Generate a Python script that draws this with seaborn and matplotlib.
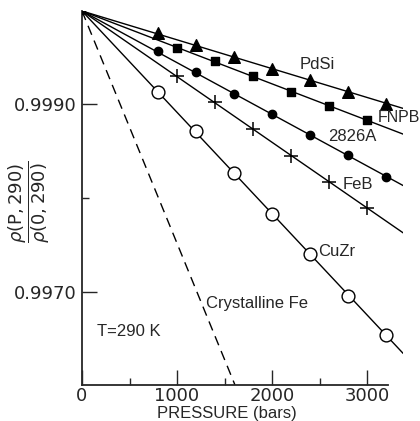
import numpy as np
import pandas as pd
import matplotlib
matplotlib.use("Agg")
import matplotlib.pyplot as plt
import seaborn as sns

# ---- data ----
pdsi_p = [800, 1200, 1600, 2000, 2400, 2800, 3200]
pdsi_v = [0.999766, 0.999638, 0.999511, 0.999383, 0.999266, 0.999138, 0.999000]

fnpb_p = [1000, 1400, 1800, 2200, 2600, 3000]
fnpb_v = [0.999606, 0.999468, 0.999309, 0.999138, 0.998979, 0.998830]

a2826_p = [800, 1200, 1600, 2000, 2400, 2800, 3200]
a2826_v = [0.999574, 0.999351, 0.999117, 0.998894, 0.998670, 0.998457, 0.998223]

feb_p = [1000, 1400, 1800, 2200, 2600, 3000]
feb_v = [0.999309, 0.999032, 0.998734, 0.998447, 0.998170, 0.997894]

cuzr_p = [800, 1200, 1600, 2000, 2400, 2800, 3200]
cuzr_v = [0.999138, 0.998713, 0.998266, 0.997830, 0.997404, 0.996957, 0.996532]

cryst_fe_p = [0, 1610]
cryst_fe_v = [1.0000, 0.9960]

x_ticks_major = [0, 1000, 2000, 3000]
x_tick_labels = ["0", "1000", "2000", "3000"]
x_ticks_minor = [500, 1500, 2500]
y_ticks_major = [0.9970, 0.9990]
y_tick_labels = ["0.9970", "0.9990"]
y_ticks_minor = [0.9980]

P_END = 3380

sns.set_style("ticks")
plt.rcParams["font.family"] = ["Liberation Sans", "DejaVu Sans"]
plt.rcParams["mathtext.fontset"] = "dejavusans"

fig = plt.figure(figsize=(4.2, 4.21), dpi=100)
ax = fig.add_axes([0.1952, 0.0855, 0.7648, 0.8884])

series = [
    ("PdSi", pdsi_p, pdsi_v, "^", 70, "black"),
    ("FNPB", fnpb_p, fnpb_v, "s", 36, "black"),
    ("2826A", a2826_p, a2826_v, "o", 36, "black"),
    ("FeB", feb_p, feb_v, "+", 90, "black"),
    ("CuZr", cuzr_p, cuzr_v, "o", 85, "white"),
]

for name, p, v, mk, s, fc in series:
    p = np.asarray(p, float)
    v = np.asarray(v, float)
    slope = np.sum(p * (v - 1.0)) / np.sum(p * p)
    line = pd.DataFrame({"P": [0.0, P_END], "V": [1.0, 1.0 + slope * P_END]})
    sns.lineplot(data=line, x="P", y="V", ax=ax, color="black", lw=1.0)
    pts = pd.DataFrame({"P": p, "V": v})
    if mk == "+":
        sns.scatterplot(data=pts, x="P", y="V", ax=ax, marker="+", s=s,
                        color="black", linewidth=1.1, zorder=3)
    else:
        sns.scatterplot(data=pts, x="P", y="V", ax=ax, marker=mk, s=s,
                        color=fc, edgecolor="black", linewidth=1.0, zorder=3)

fe = pd.DataFrame({"P": cryst_fe_p, "V": cryst_fe_v})
sns.lineplot(data=fe, x="P", y="V", ax=ax, color="black", lw=1.0,
             linestyle=(0, (7, 4.5)))

origin = pd.DataFrame({"P": [0.0], "V": [1.0]})
sns.scatterplot(data=origin, x="P", y="V", ax=ax, marker="o", s=25,
                color="black", edgecolor="black", zorder=4)

ax.set_xlim(0, P_END)
ax.set_ylim(0.9960, 1.0000)
ax.spines["top"].set_visible(False)
ax.spines["right"].set_visible(False)
ax.spines["bottom"].set_bounds(0, 3220)
for sp in ("left", "bottom"):
    ax.spines[sp].set_linewidth(1.3)

ax.set_xticks(x_ticks_major)
ax.set_xticklabels(x_tick_labels)
ax.set_xticks(x_ticks_minor, minor=True)
ax.set_yticks(y_ticks_major)
ax.set_yticklabels(y_tick_labels)
ax.set_yticks(y_ticks_minor, minor=True)
ax.tick_params(axis="y", which="major", direction="in", length=11,
               width=1.0, pad=4)
ax.tick_params(axis="x", which="major", direction="in", length=11,
               width=1.0, pad=1.5)
ax.tick_params(axis="both", which="minor", direction="in", length=5, width=1.0)
for lab in ax.get_xticklabels() + ax.get_yticklabels():
    lab.set_fontfamily("DejaVu Sans")
    lab.set_fontsize(13)

ax.set_xlabel("PRESSURE (bars)", fontsize=12)
ax.xaxis.set_label_coords(0.452, -0.057)
ax.set_ylabel("")
fig.text(0.070, 0.52, r"$\dfrac{\rho(\mathrm{P},290)}{\rho(0,290)}$",
         rotation=90, ha="center", va="center", fontsize=13)

fs = 12
ax.text(2474, 0.999426, "PdSi", ha="center", va="center", fontsize=fs)
ax.text(3110, 0.998862, "FNPB", ha="left", va="center", fontsize=11.5)
ax.text(2842, 0.998660, "2826A", ha="center", va="center", fontsize=fs)
ax.text(2747, 0.998149, "FeB", ha="left", va="center", fontsize=fs)
ax.text(2484, 0.997426, "CuZr", ha="left", va="center", fontsize=fs)
ax.text(1305, 0.996872, "Crystalline Fe", ha="left", va="center", fontsize=fs)
ax.text(158, 0.996574, "T=290 K", ha="left", va="center", fontsize=fs)

fig.savefig("out.png", dpi=100)
